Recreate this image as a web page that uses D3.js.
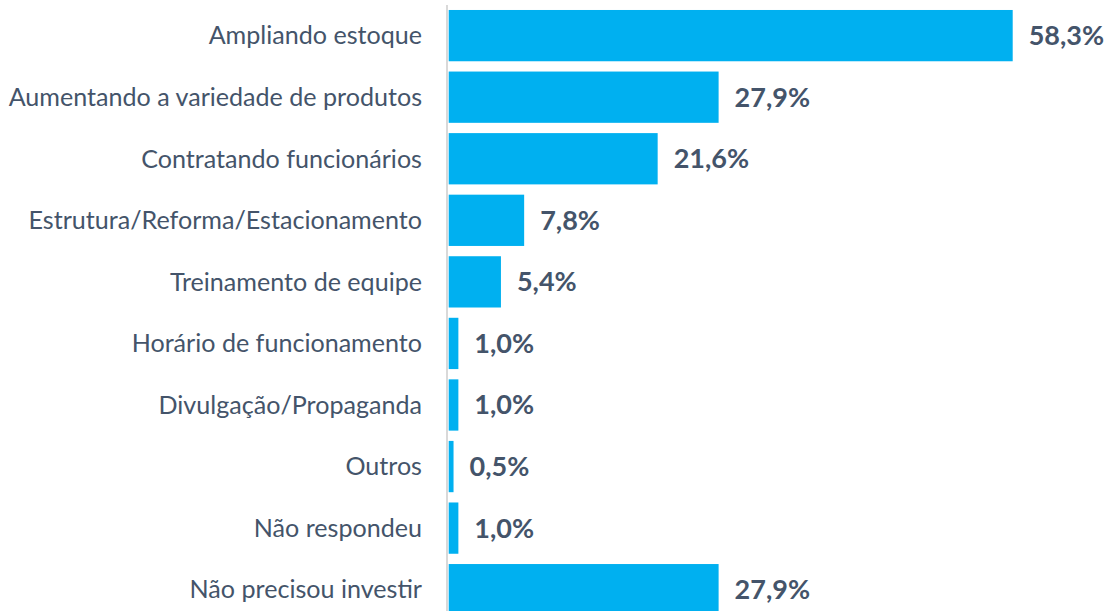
<!DOCTYPE html>
<html>
<head>
<meta charset="utf-8">
<script src="https://cdn.jsdelivr.net/npm/d3@7"></script>
<style>
  html, body { margin: 0; padding: 0; background: #fff; overflow: hidden; }
</style>
</head>
<body>
<div id="chart"></div>
<script>
const categories = ["Ampliando estoque", "Aumentando a variedade de produtos", "Contratando funcionários",
  "Estrutura/Reforma/Estacionamento", "Treinamento de equipe", "Horário de funcionamento",
  "Divulgação/Propaganda", "Outros", "Não respondeu", "Não precisou investir"];
const values = [58.3, 27.9, 21.6, 7.8, 5.4, 1.0, 1.0, 0.5, 1.0, 27.9];

const width = 1106, height = 611;
const left = 448.7;
const textColor = "#44546A";

let svg = d3.select("#chart")
  .append("svg")
  .attr("width", width)
  .attr("height", height);

let x = d3.scaleLinear()
  .domain([0, 58.3])
  .range([left, 1012.7]);

let y = d3.scaleBand()
  .domain(categories)
  .range([-0.3, 625.6])
  .padding(0.167);

// axis line
svg.append("line")
  .attr("x1", left - 1.7).attr("x2", left - 1.7)
  .attr("y1", 5).attr("y2", height + 10)
  .attr("stroke", "#D9D9D9")
  .attr("stroke-width", 2);

let data = categories.map((c, i) => ({name: c, value: values[i]}));

svg.selectAll(".bar")
  .data(data)
  .enter()
  .append("rect")
  .attr("class", "bar")
  .attr("x", x(0))
  .attr("y", d => y(d.name))
  .attr("width", d => x(d.value) - x(0))
  .attr("height", y.bandwidth())
  .attr("fill", "#00B0F0");

svg.selectAll(".cat")
  .data(data)
  .enter()
  .append("text")
  .attr("class", "cat")
  .attr("x", 422)
  .attr("y", d => y(d.name) + y.bandwidth() / 2)
  .attr("dy", "0.35em")
  .attr("text-anchor", "end")
  .style("font-family", "Lato, sans-serif")
  .style("font-size", "25.1px")
  .style("fill", textColor)
  .text(d => d.name);

const fmt = d3.format(".1f");
svg.selectAll(".value")
  .data(data)
  .enter()
  .append("text")
  .attr("class", "value")
  .attr("x", d => x(d.value) + 16)
  .attr("y", d => y(d.name) + y.bandwidth() / 2)
  .attr("dy", "0.35em")
  .style("font-family", "Lato, sans-serif")
  .style("font-weight", "bold")
  .style("font-size", "27px")
  .style("fill", textColor)
  .text(d => fmt(d.value).replace(".", ",") + "%");
</script>
</body>
</html>
